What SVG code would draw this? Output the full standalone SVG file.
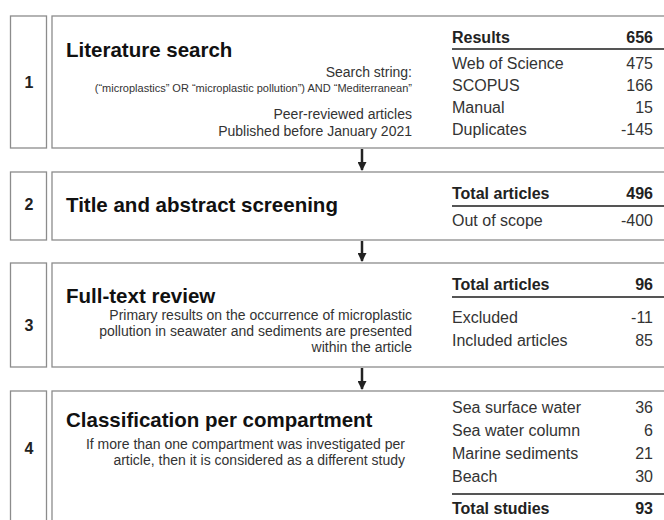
<svg xmlns="http://www.w3.org/2000/svg" width="664" height="520" viewBox="0 0 664 520">
<defs>
<marker id="ah" viewBox="0 0 10 10" refX="9" refY="5" markerWidth="10" markerHeight="9" markerUnits="userSpaceOnUse" orient="auto">
<path d="M0,0 L10,5 L0,10 z" fill="#222"/>
</marker>
</defs>
<style>
.box{fill:#fff;stroke:#8c8c8c;stroke-width:1.3}
.num{font-family:"Liberation Sans",Arial,sans-serif;font-weight:bold;font-size:16px;fill:#222;text-anchor:middle}
.title{font-family:"Liberation Sans",Arial,sans-serif;font-weight:bold;font-size:20.5px;fill:#111}
.desc{font-family:"Liberation Sans",Arial,sans-serif;font-size:14px;fill:#333;text-anchor:end}
.q{font-family:"Liberation Sans",Arial,sans-serif;font-size:11px;fill:#333;text-anchor:end}
.t{font-family:"Liberation Sans",Arial,sans-serif;font-size:16px;fill:#333}
.tb{font-family:"Liberation Sans",Arial,sans-serif;font-size:16px;font-weight:bold;fill:#222}
.v{text-anchor:end}
.hl{stroke:#555;stroke-width:2}
.arr{stroke:#222;stroke-width:2.5;fill:none}
</style>
<g id="stage1">
<rect class="box" x="10.5" y="16" width="36" height="132"/>
<rect class="box" x="52" y="16" width="620" height="132"/>
<text class="num" x="29" y="88">1</text>
<text class="title" x="66" y="57">Literature search</text>
<text class="desc" x="412" y="77">Search string:</text>
<text class="q" x="412" y="92">(“microplastics” OR “microplastic pollution”) AND “Mediterranean”</text>
<text class="desc" x="412" y="119">Peer-reviewed articles</text>
<text class="desc" x="412" y="136">Published before January 2021</text>
<text class="tb" x="452" y="43">Results</text><text class="tb v" x="653" y="43">656</text>
<line class="hl" x1="452" y1="49" x2="664" y2="49"/>
<text class="t" x="452" y="69">Web of Science</text><text class="t v" x="653" y="69">475</text>
<text class="t" x="452" y="91">SCOPUS</text><text class="t v" x="653" y="91">166</text>
<text class="t" x="452" y="113">Manual</text><text class="t v" x="653" y="113">15</text>
<text class="t" x="452" y="135">Duplicates</text><text class="t v" x="653" y="135">-145</text>
</g>
<g id="stage2">
<rect class="box" x="10.5" y="172" width="36" height="68"/>
<rect class="box" x="52" y="172" width="620" height="68"/>
<text class="num" x="29" y="210">2</text>
<text class="title" x="66" y="212">Title and abstract screening</text>
<text class="tb" x="452" y="199">Total articles</text><text class="tb v" x="653" y="199">496</text>
<line class="hl" x1="452" y1="206" x2="664" y2="206"/>
<text class="t" x="452" y="226">Out of scope</text><text class="t v" x="653" y="226">-400</text>
</g>
<g id="stage3">
<rect class="box" x="10.5" y="263" width="36" height="104"/>
<rect class="box" x="52" y="263" width="620" height="104"/>
<text class="num" x="29" y="331">3</text>
<text class="title" x="66" y="303">Full-text review</text>
<text class="desc" x="412" y="320">Primary results on the occurrence of microplastic</text>
<text class="desc" x="412" y="336">pollution in seawater and sediments are presented</text>
<text class="desc" x="412" y="352">within the article</text>
<text class="tb" x="452" y="290">Total articles</text><text class="tb v" x="653" y="290">96</text>
<line class="hl" x1="452" y1="297" x2="664" y2="297"/>
<text class="t" x="452" y="323">Excluded</text><text class="t v" x="653" y="323">-11</text>
<text class="t" x="452" y="346">Included articles</text><text class="t v" x="653" y="346">85</text>
</g>
<g id="stage4">
<rect class="box" x="10.5" y="391" width="36" height="140"/>
<rect class="box" x="52" y="391" width="620" height="140"/>
<text class="num" x="29" y="454">4</text>
<text class="title" x="66" y="427">Classification per compartment</text>
<text class="desc" x="405" y="449">If more than one compartment was investigated per</text>
<text class="desc" x="405" y="465">article, then it is considered as a different study</text>
<text class="t" x="452" y="413">Sea surface water</text><text class="t v" x="653" y="413">36</text>
<text class="t" x="452" y="436">Sea water column</text><text class="t v" x="653" y="436">6</text>
<text class="t" x="452" y="459">Marine sediments</text><text class="t v" x="653" y="459">21</text>
<text class="t" x="452" y="482">Beach</text><text class="t v" x="653" y="482">30</text>
<line class="hl" x1="452" y1="494" x2="664" y2="494"/>
<text class="tb" x="452" y="514">Total studies</text><text class="tb v" x="653" y="514">93</text>
</g>
<g id="connectors">
<line class="arr" x1="362" y1="149" x2="362" y2="170" marker-end="url(#ah)"/>
<line class="arr" x1="362" y1="241" x2="362" y2="261" marker-end="url(#ah)"/>
<line class="arr" x1="362" y1="368" x2="362" y2="389" marker-end="url(#ah)"/>
</g>
</svg>
